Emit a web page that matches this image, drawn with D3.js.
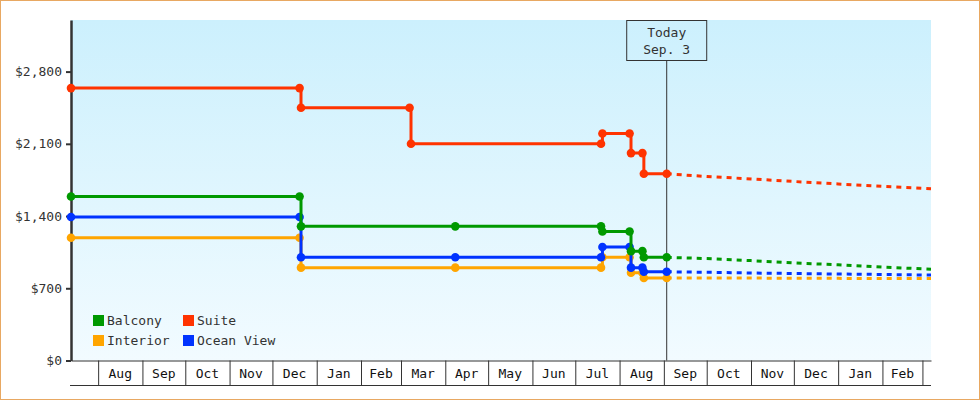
<!DOCTYPE html>
<html>
<head>
<meta charset="utf-8">
<script src="https://cdn.jsdelivr.net/npm/d3@7"></script>
<style>
  body { margin: 0; background: #fff; }
  text { font-family: "DejaVu Sans Mono", monospace; }
</style>
</head>
<body>
<svg id="fares" width="980" height="400"></svg>
<script>
// observed fares, one column per observation date (null = no reading that day)
const priceDates = ["2013-07-13", "2013-12-20", "2013-12-21", "2014-03-07", "2014-03-08", "2014-04-08",
  "2014-07-19", "2014-07-20", "2014-08-08", "2014-08-09", "2014-08-17", "2014-08-18", "2014-09-03"]
const balcony   = [1590, 1590, 1300, null, null, 1300, 1300, 1250, 1250, 1060, 1060, 1000, 1000]
const suite     = [2640, 2640, 2450, 2450, 2100, null, 2100, 2200, 2200, 2010, 2010, 1810, 1810]
const interior  = [1190, 1190, 900, null, null, 900, 900, 1000, 1000, 850, 850, 800, 800]
const oceanView = [1390, 1390, 1000, null, null, 1000, 1000, 1100, 1100, 900, 900, 860, 860]

// projected fares after today
const forecastDates = ["2014-09-03", "2014-10-01", "2014-11-01", "2014-12-01", "2015-01-01", "2015-02-01", "2015-03-07"]
const balconyForecast   = [1000, 988, 968, 945, 928, 905, 885]
const suiteForecast     = [1810, 1783, 1760, 1735, 1711, 1687, 1665]
const interiorForecast  = [800, 800, 799, 797, 796, 795, 795]
const oceanViewForecast = [860, 855, 848, 843, 838, 834, 828]

const seriesNames = ["Balcony", "Suite", "Interior", "Ocean View"]
const today = "2014-09-03"
const todayLabel = ["Today", "Sep. 3"]
const dateRange = ["2013-07-13", "2015-03-07"]

const yTicks = [0, 700, 1400, 2100, 2800]
const yMax = 3300
const monthStarts = ["2013-08-01", "2013-09-01", "2013-10-01", "2013-11-01", "2013-12-01", "2014-01-01",
  "2014-02-01", "2014-03-01", "2014-04-01", "2014-05-01", "2014-06-01", "2014-07-01", "2014-08-01",
  "2014-09-01", "2014-10-01", "2014-11-01", "2014-12-01", "2015-01-01", "2015-02-01", "2015-03-01"]
const monthLabels = ["Aug", "Sep", "Oct", "Nov", "Dec", "Jan", "Feb", "Mar", "Apr", "May", "Jun", "Jul",
  "Aug", "Sep", "Oct", "Nov", "Dec", "Jan", "Feb"]

const parse = d3.timeParse("%Y-%m-%d")

let colors = {
  "Balcony": "#009900",
  "Suite": "#ff3300",
  "Interior": "#ffa500",
  "Ocean View": "#0033ff"
}

let observed = { "Balcony": balcony, "Suite": suite, "Interior": interior, "Ocean View": oceanView }
let projected = { "Balcony": balconyForecast, "Suite": suiteForecast, "Interior": interiorForecast, "Ocean View": oceanViewForecast }

let series = seriesNames.map(name => ({
  name: name,
  points: priceDates.map((d, i) => ({ date: parse(d), price: observed[name][i] })).filter(p => p.price !== null),
  forecast: forecastDates.map((d, i) => ({ date: parse(d), price: projected[name][i] }))
}))

let width = 980
let height = 400
let margin = { top: 20, right: 49, bottom: 39.5, left: 71 }
let svg = d3.select("#fares")

let x = d3.scaleTime()
  .domain(dateRange.map(parse))
  .range([margin.left, width - margin.right])

let y = d3.scaleLinear()
  .domain([0, yMax])
  .range([height - margin.bottom, margin.top])

// outer frame
svg.append("rect")
  .attr("x", 0.5).attr("y", 0.5)
  .attr("width", width - 1).attr("height", height - 1)
  .style("fill", "#fff")
  .style("stroke", "#e8a862")

let grad = svg.append("defs").append("linearGradient")
  .attr("id", "bgGrad")
  .attr("x1", 0).attr("y1", 0).attr("x2", 0).attr("y2", 1)
grad.append("stop").attr("offset", "0%").attr("stop-color", "#ccf0fd")
grad.append("stop").attr("offset", "100%").attr("stop-color", "#f2fbff")

svg.append("rect")
  .attr("x", margin.left)
  .attr("y", margin.top)
  .attr("width", width - margin.right - margin.left)
  .attr("height", height - margin.bottom - margin.top)
  .style("fill", "url(#bgGrad)")

// month boxes under the plot
let xAxis = svg.append("g")
  .attr("class", "x axis")
  .attr("transform", `translate(0,${height - margin.bottom})`)
  .call(d3.axisBottom(x)
    .tickValues(monthStarts.map(parse))
    .tickSize(25)
    .tickSizeOuter(0)
    .tickFormat(""))
xAxis.selectAll("path, line").style("stroke", "#333")

svg.append("line")
  .attr("x1", margin.left - 1)
  .attr("x2", width - margin.right)
  .attr("y1", height - margin.bottom + 25)
  .attr("y2", height - margin.bottom + 25)
  .style("stroke", "#333")

svg.append("g")
  .attr("class", "month-labels")
  .selectAll("text")
  .data(monthLabels)
  .join("text")
  .attr("x", (d, i) => (x(parse(monthStarts[i])) + x(parse(monthStarts[i + 1]))) / 2)
  .attr("y", height - margin.bottom + 17)
  .attr("text-anchor", "middle")
  .style("font-size", "13px")
  .style("fill", "#111")
  .text(d => d)

let yAxis = svg.append("g")
  .attr("class", "y axis")
  .attr("transform", `translate(${margin.left},0)`)
  .call(d3.axisLeft(y)
    .tickValues(yTicks)
    .tickSize(5)
    .tickSizeOuter(0)
    .tickPadding(4)
    .tickFormat(d => "$" + d3.format(",")(d)))
yAxis.attr("font-family", null).attr("font-size", null)
yAxis.select(".domain").style("stroke", "#333").style("stroke-width", 2.5)
yAxis.selectAll(".tick line").style("stroke", "#333").style("stroke-width", 2)
yAxis.selectAll(".tick text").style("font-size", "13px").style("fill", "#333")

// today marker
let todayX = x(parse(today))
svg.append("line")
  .attr("x1", todayX).attr("x2", todayX)
  .attr("y1", margin.top + 40.5)
  .attr("y2", height - margin.bottom)
  .style("stroke", "#333")

svg.append("rect")
  .attr("x", todayX - 40)
  .attr("y", margin.top + 0.5)
  .attr("width", 80)
  .attr("height", 40)
  .style("fill", "none")
  .style("stroke", "#333")

svg.append("g")
  .selectAll("text")
  .data(todayLabel)
  .join("text")
  .attr("x", todayX)
  .attr("y", (d, i) => margin.top + 17 + i * 17)
  .attr("text-anchor", "middle")
  .style("font-size", "13px")
  .style("fill", "#333")
  .text(d => d)

let stepLine = d3.line()
  .x(d => x(d.date))
  .y(d => y(d.price))
  .curve(d3.curveStepAfter)

let forecastLine = d3.line()
  .x(d => x(d.date))
  .y(d => y(d.price))

let drawOrder = ["Interior", "Ocean View", "Balcony", "Suite"]
let ordered = drawOrder.map(n => series.find(s => s.name == n))

let groups = svg.append("g")
  .attr("id", "lines")
  .selectAll("g")
  .data(ordered)
  .join("g")

groups.append("path")
  .attr("d", d => forecastLine(d.forecast))
  .style("fill", "none")
  .style("stroke", d => colors[d.name])
  .style("stroke-width", 3)
  .style("stroke-dasharray", "5,5")

groups.append("path")
  .attr("d", d => stepLine(d.points))
  .style("fill", "none")
  .style("stroke", d => colors[d.name])
  .style("stroke-width", 3)

let marker = d3.symbol(d3.symbolCircle, 58)
groups.selectAll(".dot")
  .data(d => d.points.map(p => ({ ...p, name: d.name })))
  .join("path")
  .attr("class", "dot")
  .attr("d", marker)
  .attr("transform", d => `translate(${x(d.date)},${y(d.price)})`)
  .style("fill", d => colors[d.name])

// legend, two columns
let legend = svg.append("g")
  .attr("class", "legend")
  .selectAll("g")
  .data(seriesNames)
  .join("g")
  .attr("transform", (d, i) => `translate(${93 + (i % 2) * 90},${315 + Math.floor(i / 2) * 20})`)

legend.append("rect")
  .attr("width", 11)
  .attr("height", 11)
  .style("fill", d => colors[d])

legend.append("text")
  .attr("x", 14)
  .attr("y", 10)
  .style("font-size", "13px")
  .style("fill", "#333")
  .text(d => d)
</script>
</body>
</html>
